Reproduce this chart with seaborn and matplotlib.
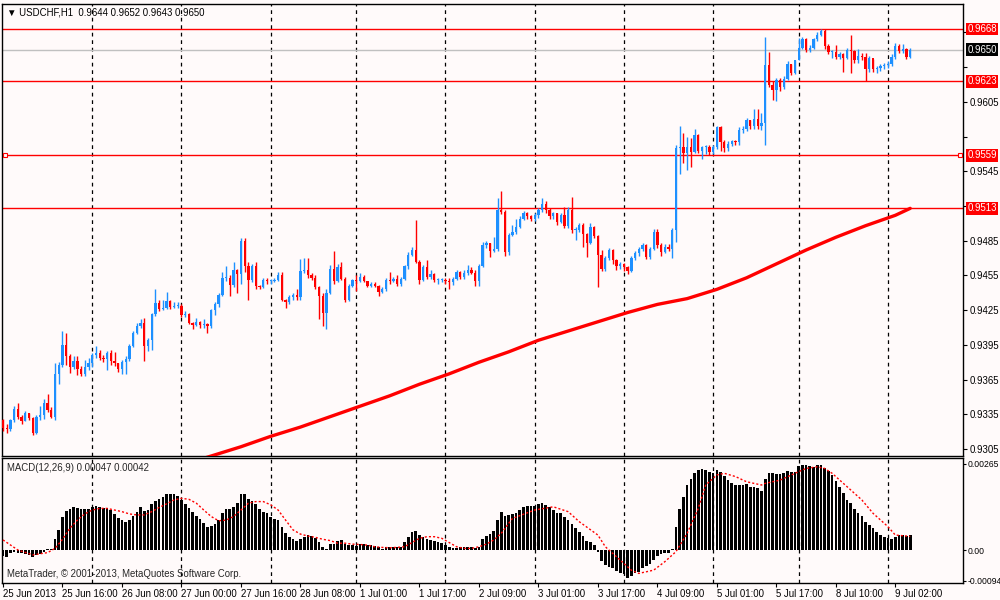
import matplotlib
matplotlib.use("Agg")
import matplotlib.pyplot as plt
import matplotlib.transforms as mtransforms
import numpy as np
import pandas as pd
import seaborn as sns

BG = "#fffafa"
BULL = "#1e90ff"
BEAR = "#ff0000"
FS = 6.9

# H1 bars, prices in 1/10000 (9323 -> 0.9323); open of a bar = previous close
first_open = 9330
closes = [
    9323, 9322, 9330, 9340, 9333, 9329, 9336, 9332, 9319, 9333,
    9334, 9345, 9339, 9333, 9370, 9378, 9395, 9385, 9376, 9381,
    9374, 9370, 9376, 9379, 9386, 9388, 9384, 9383, 9388, 9381,
    9379, 9374, 9380, 9383, 9394, 9405, 9411, 9414, 9394, 9399,
    9422, 9431, 9426, 9427, 9433, 9428, 9429, 9429, 9421, 9422,
    9414, 9412, 9415, 9412, 9413, 9411, 9425, 9430, 9438, 9453,
    9453, 9447, 9460, 9456, 9485, 9463, 9451, 9463, 9446, 9445,
    9451, 9450, 9450, 9451, 9455, 9434, 9432, 9436, 9438, 9436,
    9459, 9460, 9455, 9453, 9445, 9437, 9423, 9440, 9461, 9450,
    9462, 9452, 9434, 9446, 9451, 9450, 9454, 9450, 9446, 9448,
    9446, 9441, 9443, 9451, 9450, 9452, 9448, 9452, 9463, 9473,
    9477, 9467, 9451, 9462, 9454, 9456, 9451, 9451, 9451, 9450,
    9449, 9452, 9458, 9454, 9457, 9460, 9457, 9450, 9463, 9481,
    9483, 9476, 9478, 9512, 9510, 9475, 9490, 9493, 9497, 9504,
    9509, 9506, 9504, 9507, 9512, 9517, 9512, 9506, 9509, 9501,
    9507, 9498, 9512, 9494, 9494, 9499, 9491, 9483, 9497, 9489,
    9473, 9461, 9470, 9477, 9468, 9463, 9465, 9462, 9459, 9470,
    9474, 9478, 9481, 9471, 9478, 9493, 9481, 9475, 9480, 9478,
    9494, 9565, 9566, 9561, 9566, 9562, 9576, 9563, 9566, 9566,
    9562, 9566, 9583, 9570, 9565, 9569, 9571, 9570, 9581, 9582,
    9589, 9584, 9590, 9584, 9587, 9637, 9620, 9615, 9624, 9618,
    9625, 9638, 9630, 9641, 9652, 9659, 9650, 9652, 9659, 9663,
    9666, 9653, 9648, 9648, 9644, 9646, 9643, 9650, 9649, 9641,
    9645, 9644, 9633, 9643, 9633, 9634, 9636, 9637, 9638, 9644,
    9653, 9649, 9651, 9644, 9650,
]
highs = [
    9331, 9327, 9331, 9342, 9345, 9334, 9338, 9336, 9333, 9334,
    9342, 9348, 9353, 9341, 9379, 9380, 9407, 9405, 9387, 9385,
    9385, 9377, 9382, 9384, 9388, 9394, 9391, 9386, 9390, 9391,
    9389, 9379, 9382, 9385, 9396, 9407, 9414, 9417, 9418, 9401,
    9423, 9443, 9434, 9434, 9441, 9434, 9432, 9432, 9430, 9424,
    9423, 9415, 9418, 9416, 9417, 9414, 9426, 9432, 9440, 9458,
    9463, 9455, 9467, 9461, 9487, 9487, 9467, 9465, 9467, 9447,
    9453, 9453, 9452, 9453, 9458, 9458, 9435, 9438, 9440, 9443,
    9469, 9470, 9470, 9457, 9455, 9446, 9440, 9443, 9464, 9476,
    9465, 9467, 9454, 9448, 9452, 9455, 9457, 9455, 9450, 9449,
    9449, 9447, 9445, 9453, 9458, 9454, 9455, 9454, 9464, 9475,
    9480, 9503, 9468, 9464, 9468, 9460, 9457, 9453, 9453, 9453,
    9453, 9454, 9460, 9459, 9460, 9464, 9462, 9460, 9465, 9484,
    9485, 9483, 9488, 9522, 9528, 9512, 9492, 9499, 9504, 9506,
    9511, 9510, 9507, 9509, 9513, 9522, 9519, 9513, 9510, 9509,
    9509, 9514, 9514, 9523, 9497, 9500, 9500, 9492, 9500, 9498,
    9490, 9477, 9472, 9479, 9478, 9469, 9467, 9466, 9463, 9472,
    9476, 9480, 9483, 9482, 9480, 9495, 9495, 9483, 9482, 9482,
    9496, 9568, 9584, 9578, 9575, 9574, 9582, 9577, 9567, 9568,
    9568, 9568, 9584, 9584, 9572, 9571, 9572, 9572, 9583, 9584,
    9591, 9589, 9599, 9599, 9595, 9661, 9648, 9623, 9626, 9626,
    9627, 9640, 9638, 9641, 9660, 9661, 9660, 9654, 9660, 9665,
    9668, 9668, 9655, 9650, 9654, 9648, 9647, 9652, 9663, 9650,
    9651, 9647, 9647, 9645, 9642, 9636, 9638, 9639, 9640, 9646,
    9656, 9655, 9655, 9652, 9652,
]
lows = [
    9321, 9319, 9321, 9328, 9331, 9327, 9329, 9330, 9317, 9318,
    9330, 9331, 9337, 9332, 9330, 9361, 9376, 9378, 9371, 9374,
    9369, 9368, 9368, 9373, 9376, 9384, 9382, 9380, 9373, 9378,
    9377, 9372, 9370, 9370, 9381, 9393, 9404, 9410, 9381, 9390,
    9391, 9420, 9424, 9425, 9426, 9426, 9427, 9427, 9419, 9419,
    9413, 9409, 9411, 9410, 9410, 9405, 9410, 9421, 9428, 9437,
    9450, 9437, 9445, 9440, 9448, 9458, 9434, 9449, 9443, 9443,
    9444, 9448, 9448, 9449, 9450, 9433, 9427, 9430, 9434, 9434,
    9434, 9457, 9453, 9451, 9443, 9417, 9411, 9409, 9439, 9448,
    9449, 9451, 9432, 9433, 9445, 9442, 9449, 9449, 9445, 9445,
    9445, 9437, 9440, 9442, 9448, 9449, 9446, 9446, 9451, 9461,
    9472, 9466, 9448, 9450, 9452, 9452, 9449, 9448, 9449, 9448,
    9443, 9447, 9451, 9452, 9452, 9455, 9456, 9446, 9446, 9462,
    9479, 9471, 9475, 9476, 9508, 9472, 9473, 9489, 9491, 9496,
    9503, 9504, 9502, 9502, 9505, 9510, 9509, 9504, 9504, 9499,
    9500, 9496, 9496, 9492, 9486, 9493, 9480, 9471, 9482, 9487,
    9445, 9459, 9459, 9468, 9465, 9460, 9461, 9459, 9456, 9458,
    9468, 9472, 9476, 9469, 9469, 9477, 9479, 9472, 9474, 9476,
    9470, 9484, 9543, 9552, 9546, 9549, 9561, 9561, 9556, 9560,
    9559, 9560, 9564, 9563, 9562, 9563, 9567, 9568, 9568, 9578,
    9580, 9582, 9582, 9582, 9581, 9568, 9618, 9607, 9606, 9614,
    9616, 9624, 9628, 9629, 9641, 9651, 9648, 9648, 9651, 9658,
    9662, 9651, 9646, 9643, 9642, 9642, 9631, 9642, 9630, 9639,
    9639, 9641, 9623, 9631, 9631, 9630, 9632, 9633, 9634, 9636,
    9642, 9647, 9647, 9642, 9643,
]

# moving average (thick red line), sampled along the bars
ma_bars = [50, 56, 64, 72, 80, 88, 96, 104, 112, 120, 128, 136, 144, 152,
           160, 168, 176, 184, 192, 200, 208, 216, 224, 232, 240, 244]
ma_values = [9293, 9299, 9307, 9316, 9324, 9333, 9342, 9351, 9361, 9370,
             9380, 9389, 9399, 9407, 9415, 9423, 9430, 9435, 9443, 9453,
             9465, 9477, 9488, 9498, 9507, 9513]

# MACD(12,26,9) main histogram, in 1e-5
macd_hist = [
    -18, -21, -10, -5, -8, -10, -12, -15, -21, -15,
    -12, -5, 2, 3, 33, 62, 101, 121, 127, 131,
    129, 125, 125, 125, 131, 135, 131, 128, 128, 123,
    111, 97, 92, 87, 92, 106, 116, 131, 120, 123,
    141, 152, 157, 164, 172, 172, 171, 166, 154, 141,
    128, 116, 105, 94, 84, 70, 74, 80, 92, 115,
    125, 125, 133, 146, 172, 172, 156, 152, 142, 125,
    118, 113, 103, 94, 92, 72, 51, 39, 33, 29,
    33, 41, 46, 43, 36, 26, 8, 2, 17, 18,
    29, 31, 18, 15, 15, 13, 18, 18, 16, 14,
    12, 8, 2, 8, 8, 10, 10, 8, 26, 39,
    56, 60, 46, 39, 33, 31, 29, 26, 21, 15,
    8, 6, 7, 8, 8, 10, 10, 5, 10, 33,
    43, 49, 58, 92, 118, 105, 107, 111, 115, 123,
    131, 135, 135, 135, 142, 144, 139, 133, 123, 113,
    113, 101, 92, 80, 67, 56, 43, 29, 26, 15,
    -5, -33, -46, -51, -56, -64, -70, -74, -86, -80,
    -72, -67, -56, -49, -43, -31, -18, -12, -10, -8,
    2, 72, 125, 162, 200, 218, 238, 246, 248, 246,
    241, 238, 246, 241, 228, 215, 207, 200, 200, 200,
    202, 195, 195, 190, 183, 218, 236, 238, 234, 234,
    238, 244, 241, 241, 259, 262, 262, 259, 256, 262,
    262, 251, 244, 231, 213, 193, 176, 154, 146, 125,
    115, 105, 87, 77, 67, 56, 46, 39, 36, 33,
    41, 46, 45, 43, 47,
]
# signal line, in 1e-5
signal_bars = [0, 4, 8, 12, 14, 16, 18, 20, 22, 24, 26, 28, 30, 32, 34, 36, 38,
               40, 42, 44, 46, 48, 50, 52, 54, 56, 58, 60, 62, 64, 66, 68, 70,
               72, 74, 76, 78, 80, 82, 84, 86, 88, 90, 92, 94, 96, 98, 100, 102,
               104, 106, 108, 110, 112, 114, 116, 118, 120, 122, 124, 126, 128,
               130, 132, 134, 137, 143, 148, 152, 155, 160, 162, 166, 169, 171,
               175, 178, 181, 184, 187, 189, 192, 194, 197, 200, 204, 205, 209,
               213, 216, 219, 221, 223, 227, 231, 234, 238, 240, 244]
signal_values = [31, 0, -15, -8, 5, 33, 67, 92, 111, 123, 128, 128, 123, 118,
                 111, 108, 108, 118, 131, 142, 154, 159, 156, 144, 123, 103, 90,
                 92, 103, 123, 144, 149, 149, 139, 123, 92, 62, 49, 43, 39, 33,
                 29, 21, 21, 18, 17, 15, 10, 8, 7, 8, 10, 23, 36, 41, 41, 36, 23,
                 10, 5, 5, 10, 18, 31, 51, 97, 123, 133, 118, 87, 46, 10, -31,
                 -62, -72, -62, -36, -5, 51, 128, 200, 231, 236, 226, 210, 200,
                 205, 215, 236, 251, 256, 251, 236, 195, 154, 113, 72, 46, 42]

level_lines = [9668, 9623, 9559, 9513]
last_price = 9650
price_ticks = [9305, 9335, 9365, 9395, 9425, 9455, 9485, 9515, 9545, 9575,
               9605, 9635, 9665]
macd_ticks = [0.00265, 0.0, -0.00094]
macd_tick_labels = ["0.00265", "0.00", "-0.00094"]
date_labels = ["25 Jun 2013", "25 Jun 16:00", "26 Jun 08:00", "27 Jun 00:00",
               "27 Jun 16:00", "28 Jun 08:00", "1 Jul 01:00", "1 Jul 17:00",
               "2 Jul 09:00", "3 Jul 01:00", "3 Jul 17:00", "4 Jul 09:00",
               "5 Jul 01:00", "5 Jul 17:00", "8 Jul 10:00", "9 Jul 02:00"]
date_label_step = 16
day_starts = [24, 48, 72, 95, 119, 143, 167, 191, 214, 238]


def main() -> None:
    sns.set_theme(style="white")
    plt.rcParams["font.family"] = ["Liberation Sans", "DejaVu Sans"]
    plt.rcParams["axes.unicode_minus"] = False

    df = pd.DataFrame({"close": closes, "high": highs, "low": lows}) / 10000
    df["open"] = [first_open / 10000] + list(df["close"][:-1])
    df["bar"] = np.arange(len(df))
    up = df["close"] >= df["open"]
    colors = np.where(up, BULL, BEAR)

    fig = plt.figure(figsize=(10, 6), dpi=100, facecolor=BG)
    ax = fig.add_axes([0.002, 1 - 456 / 600, 0.961, 452 / 600], facecolor=BG)
    ax2 = fig.add_axes([0.002, 1 - 583 / 600, 0.961, 125 / 600], facecolor=BG)
    xlim = (-0.27, 258.2)

    # --- price panel
    for d in day_starts:
        ax.axvline(d, color="black", lw=0.9, ls=(0, (3, 3)), zorder=1)
        ax2.axvline(d, color="black", lw=0.9, ls=(0, (3, 3)), zorder=1)
    for lvl in level_lines:
        ax.axhline(lvl / 10000, color="red", lw=1, zorder=2)
    ax.axhline(last_price / 10000, color="#c0c0c0", lw=1, zorder=2)
    ax.plot([0.5, 257.4], [9559 / 10000] * 2, ls="none", marker="s", ms=3.5,
            mfc=BG, mec="red", mew=0.8, zorder=3)

    ax.vlines(df["bar"], df["low"], df["high"], colors=colors, lw=1, zorder=3)
    body_lo = df[["open", "close"]].min(axis=1)
    body_h = (df["close"] - df["open"]).abs().clip(lower=0.00008)
    ax.bar(df["bar"], body_h, bottom=body_lo, width=0.62, color=colors,
           linewidth=0, zorder=4)

    sns.lineplot(x=ma_bars, y=[v / 10000 for v in ma_values], ax=ax,
                 color="red", lw=2.4, zorder=5)

    ax.set_xlim(*xlim)
    ax.set_ylim(0.92990, 0.96896)
    ax.set_xticks([])
    ax.yaxis.tick_right()
    # labels hidden behind the level boxes are left blank
    covered = {round(lvl / 30) for lvl in level_lines}
    ax.set_yticks([p / 10000 for p in price_ticks],
                  ["" if round(p / 30) in covered else f"{p / 10000:.4f}"
                   for p in price_ticks])
    ax.tick_params(axis="y", direction="out", length=3, width=0.8,
                   labelsize=FS, pad=2, colors="black", right=True, left=False)

    tr = mtransforms.blended_transform_factory(ax.transAxes, ax.transData)
    for lvl in level_lines:
        ax.text(1.0045, lvl / 10000, f"{lvl / 10000:.4f}", transform=tr,
                ha="left", va="center", fontsize=FS, color="white", zorder=10,
                bbox=dict(boxstyle="square,pad=0.15", fc="red", ec="none"))
    ax.text(1.0045, last_price / 10000, f"{last_price / 10000:.4f}",
            transform=tr, ha="left", va="center", fontsize=FS, color="white",
            zorder=10, bbox=dict(boxstyle="square,pad=0.15", fc="black", ec="none"))

    o, h, l, c = (df[k].iloc[-1] for k in ("open", "high", "low", "close"))
    ax.text(0.005, 0.993, f"\u25BC USDCHF,H1  {o:.4f} {h:.4f} {l:.4f} {c:.4f}",
            transform=ax.transAxes, ha="left", va="top", fontsize=FS,
            color="black")

    # --- MACD panel
    ax2.bar(np.arange(len(macd_hist)), [v / 100000 for v in macd_hist],
            width=0.72, color="black", linewidth=0, zorder=3)
    sns.lineplot(x=signal_bars, y=[v / 100000 for v in signal_values], ax=ax2,
                 color="red", lw=1, linestyle=(0, (1.5, 1.5)), zorder=4)
    ax2.set_xlim(*xlim)
    ax2.set_ylim(-0.001015, 0.002831)
    ax2.yaxis.tick_right()
    ax2.set_yticks(macd_ticks, macd_tick_labels)
    ax2.tick_params(axis="y", direction="out", length=2, width=0.8,
                    labelsize=6.2, pad=1, colors="black", right=True, left=False)
    tick_pos = np.arange(len(date_labels)) * date_label_step
    ax2.set_xticks(tick_pos, date_labels)
    for t in ax2.get_xticklabels():
        t.set_ha("left")
    ax2.tick_params(axis="x", direction="out", length=3, width=0.8,
                    labelsize=FS, pad=1.5, colors="black", bottom=True)

    last_macd = macd_hist[-1] / 100000
    last_sig = signal_values[-1] / 100000
    ax2.text(0.005, 0.96, f"MACD(12,26,9) {last_macd:.5f} {last_sig:.5f}",
             transform=ax2.transAxes, ha="left", va="top", fontsize=FS)
    ax2.text(0.005, 0.03, "MetaTrader, \u00a9 2001-2013, MetaQuotes Software Corp.",
             transform=ax2.transAxes, ha="left", va="bottom", fontsize=FS)

    for a in (ax, ax2):
        for s in a.spines.values():
            s.set_color("black")
            s.set_linewidth(1)
        a.set_xlabel("")
        a.set_ylabel("")
        if a.get_legend():
            a.get_legend().remove()

    fig.savefig("out.png", dpi=100, facecolor=BG)
    plt.close(fig)


if __name__ == "__main__":
    main()
